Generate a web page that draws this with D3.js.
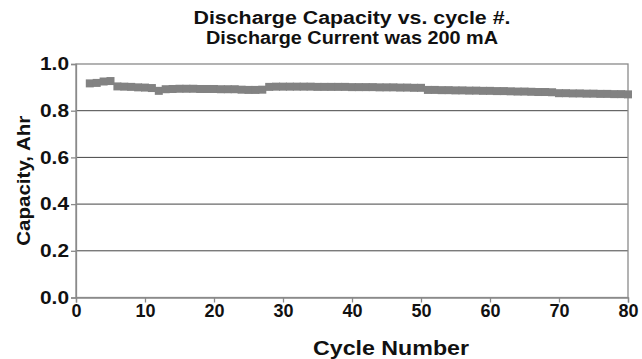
<!DOCTYPE html>
<html>
<head>
<meta charset="utf-8">
<script src="https://cdn.jsdelivr.net/npm/d3@7"></script>
<style>
  html, body { margin: 0; padding: 0; background: #fff; }
  svg { display: block; }
  text { font-family: "Liberation Sans", Arial, Helvetica, sans-serif; font-weight: bold; fill: #111; }
</style>
</head>
<body>
<svg id="chart" width="642" height="359"></svg>
<script>
// Discharge capacity (Ahr) measured at each cycle
const cycles = [
  2, 3, 4, 5, 6, 7, 8, 9, 10, 11, 12, 13, 14, 15, 16, 17, 18, 19, 20,
  21, 22, 23, 24, 25, 26, 27, 28, 29, 30, 31, 32, 33, 34, 35, 36, 37, 38, 39, 40,
  41, 42, 43, 44, 45, 46, 47, 48, 49, 50, 51, 52, 53, 54, 55, 56, 57, 58, 59, 60,
  61, 62, 63, 64, 65, 66, 67, 68, 69, 70, 71, 72, 73, 74, 75, 76, 77, 78, 79, 80
];
const capacity = [
  0.917, 0.919, 0.925, 0.927, 0.904, 0.903, 0.902, 0.900, 0.899, 0.897, 0.885, 0.892, 0.893, 0.894, 0.894, 0.894, 0.893, 0.893, 0.893,
  0.892, 0.892, 0.892, 0.890, 0.889, 0.889, 0.890, 0.902, 0.903, 0.903, 0.903, 0.903, 0.903, 0.903, 0.902, 0.902, 0.902, 0.902, 0.902, 0.901,
  0.901, 0.901, 0.901, 0.900, 0.900, 0.900, 0.899, 0.899, 0.898, 0.898, 0.889, 0.889, 0.888, 0.888, 0.887, 0.887, 0.886, 0.886, 0.885, 0.885,
  0.884, 0.884, 0.883, 0.882, 0.882, 0.881, 0.880, 0.880, 0.879, 0.875, 0.875, 0.874, 0.874, 0.873, 0.873, 0.872, 0.872, 0.871, 0.871, 0.870
];
const xTicks = [0, 10, 20, 30, 40, 50, 60, 70, 80];
const yTicks = [0.0, 0.2, 0.4, 0.6, 0.8, 1.0];
const titleLines = ["Discharge Capacity vs. cycle #.", "Discharge Current was 200 mA"];
const xTitle = "Cycle Number";
const yTitle = "Capacity, Ahr";

const svg = d3.select("#chart");
const margin = { left: 76, right: 14, top: 64, bottom: 61.5 };
const W = 642, H = 359;
const x = d3.scaleLinear().domain([0, 80]).range([margin.left, W - margin.right]);
const y = d3.scaleLinear().domain([0, 1]).range([H - margin.bottom, margin.top]);

// horizontal gridlines
svg.append("g")
  .selectAll("line")
  .data(yTicks.filter(v => v > 0 && v < 1))
  .join("line")
  .attr("x1", x(0)).attr("x2", x(80))
  .attr("y1", d => y(d)).attr("y2", d => y(d))
  .attr("stroke", "#444").attr("stroke-width", 1);

// plot frame
svg.append("rect")
  .attr("x", x(0)).attr("y", y(1))
  .attr("width", x(80) - x(0)).attr("height", y(0) - y(1))
  .attr("fill", "none").attr("stroke", "#8a8a8a").attr("stroke-width", 1.3);

// axes
const yAxis = svg.append("g")
  .attr("transform", `translate(${x(0)},0)`)
  .call(d3.axisLeft(y).tickValues(yTicks).tickFormat(d3.format(".1f")).tickSize(5).tickPadding(2));
const xAxis = svg.append("g")
  .attr("transform", `translate(0,${y(0)})`)
  .call(d3.axisBottom(x).tickValues(xTicks).tickFormat(d3.format("d")).tickSize(5).tickPadding(2));
[yAxis, xAxis].forEach(g => {
  g.select(".domain").attr("stroke", "#8a8a8a").attr("stroke-width", 1.3);
  g.selectAll(".tick line").attr("stroke", "#8a8a8a").attr("stroke-width", 1.3);
  g.selectAll(".tick text")
    .attr("font-family", "Liberation Sans, Arial, sans-serif")
    .attr("font-weight", "bold")
    .attr("font-size", 18)
    .attr("fill", "#111");
});
yAxis.selectAll(".tick text").attr("textLength", 29).attr("lengthAdjust", "spacingAndGlyphs");

// data markers: thick square points
const sz = 8;
svg.append("g")
  .selectAll("rect")
  .data(cycles.map((c, i) => [c, capacity[i]]))
  .join("rect")
  .attr("x", d => x(d[0]) - sz / 2)
  .attr("y", d => y(d[1]) - sz / 2)
  .attr("width", sz).attr("height", sz)
  .attr("fill", "#828282");

// titles (wide bold face, stretched to its set width)
const titleWidths = [317, 292];
svg.append("g")
  .selectAll("text")
  .data(titleLines)
  .join("text")
  .attr("x", (x(0) + x(80)) / 2)
  .attr("y", (d, i) => 23.5 + i * 20)
  .attr("text-anchor", "middle")
  .attr("font-size", 18)
  .attr("textLength", (d, i) => titleWidths[i])
  .attr("lengthAdjust", "spacingAndGlyphs")
  .text(d => d);

svg.append("text")
  .attr("x", 391).attr("y", 355)
  .attr("text-anchor", "middle")
  .attr("font-size", 21)
  .attr("textLength", 156)
  .attr("lengthAdjust", "spacingAndGlyphs")
  .text(xTitle);

svg.append("text")
  .attr("transform", `translate(30,${(y(0) + y(1)) / 2}) rotate(-90)`)
  .attr("text-anchor", "middle")
  .attr("font-size", 18)
  .attr("textLength", 130)
  .attr("lengthAdjust", "spacingAndGlyphs")
  .text(yTitle);
</script>
</body>
</html>
